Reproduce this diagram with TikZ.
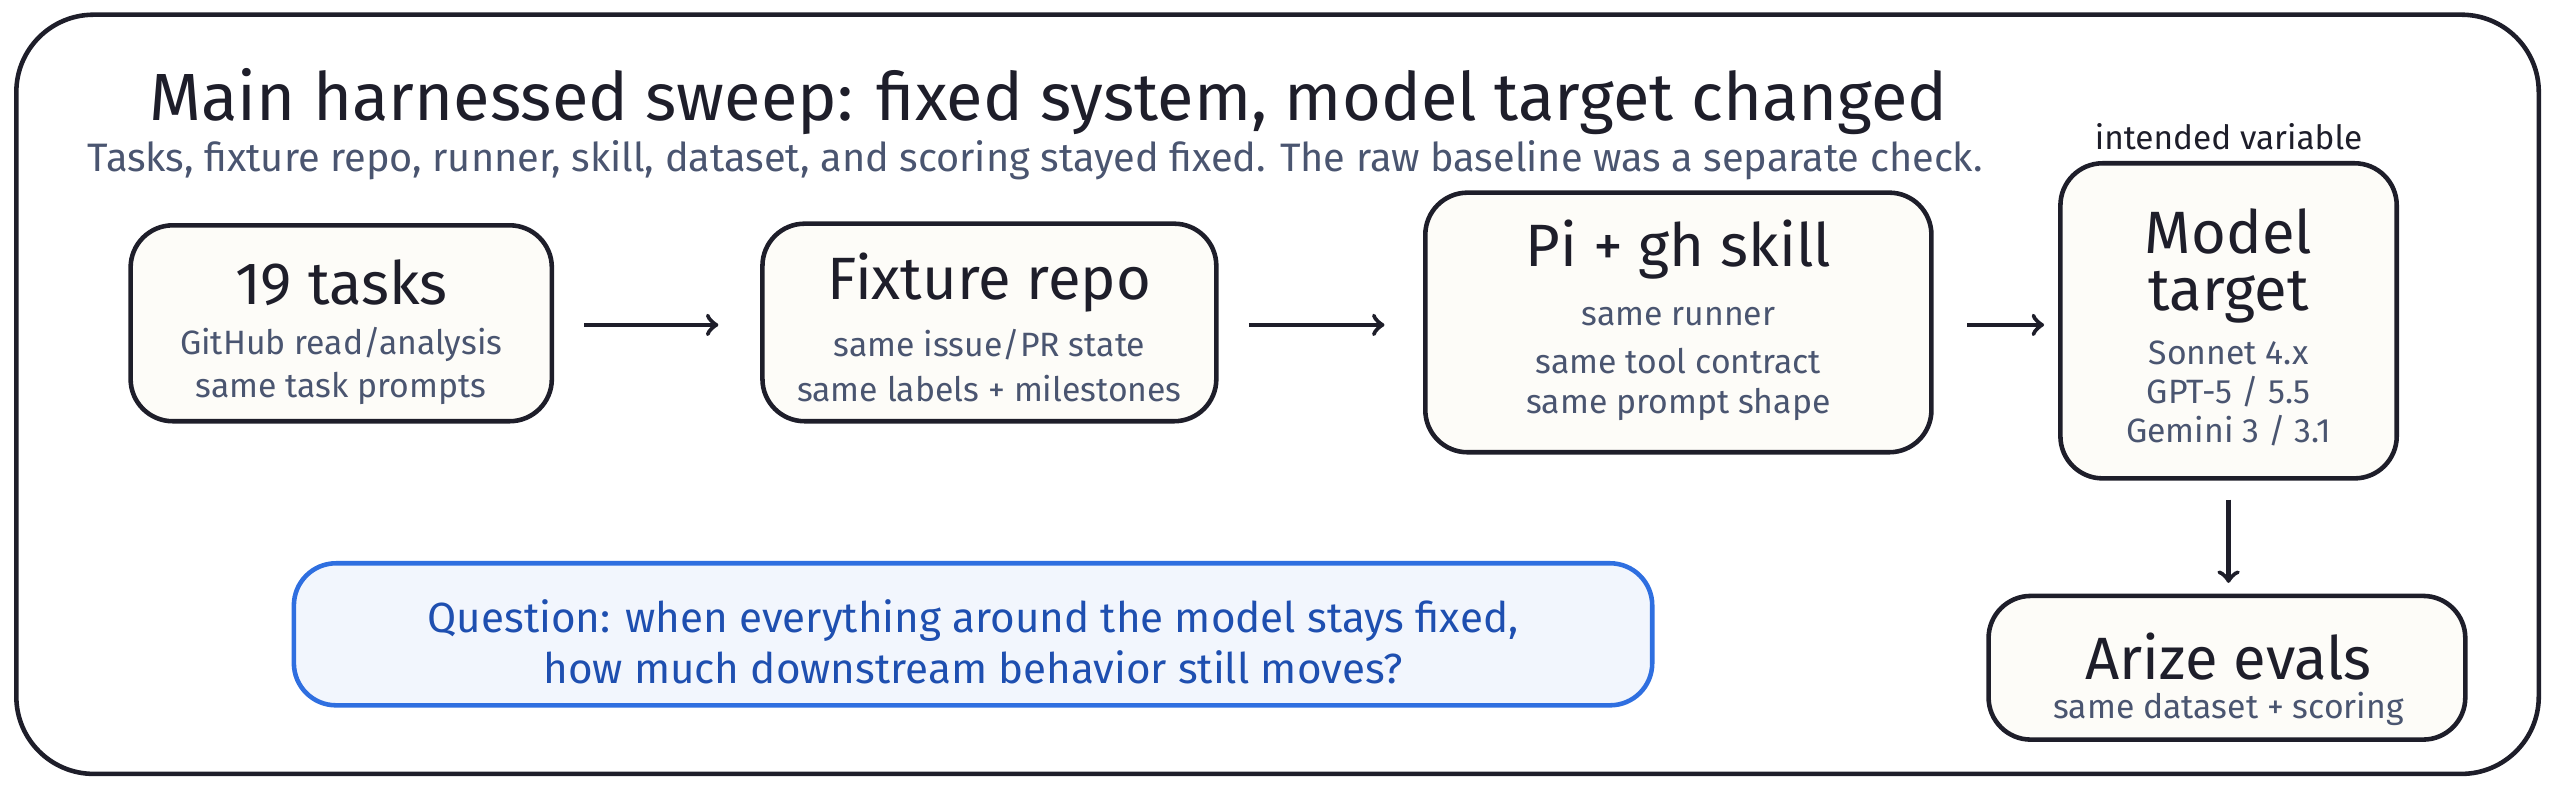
\documentclass[tikz,border=0pt]{standalone}
\usepackage{fontspec}
\setmainfont{Fira Sans}
\usetikzlibrary{positioning}
\definecolor{ink}{HTML}{1E1E2A}
\definecolor{sub}{HTML}{4A5570}
\definecolor{qblue}{HTML}{2F6FE0}
\definecolor{qtext}{HTML}{1E4FB0}
\definecolor{qfill}{HTML}{F2F6FD}
\definecolor{paper}{HTML}{FDFCF8}
\tikzset{
  stage/.style={draw=ink, line width=1.3pt, rounded corners=12pt, fill=paper},
  flow/.style={->, draw=ink, line width=1.3pt, >=to},
  head/.style={text=ink, font=\fontsize{17}{19}\selectfont},
  detail/.style={text=sub, font=\fontsize{9.6}{12}\selectfont},
}
\begin{document}
\begin{tikzpicture}[x=0.016327cm, y=-0.016327cm]
\useasboundingbox (0,0) rectangle (1568,484.5);
\draw[ink, line width=1.3pt, rounded corners=22pt] (10,9) rectangle (1555,474);
% title {{{
\node[anchor=west, text=ink, font=\fontsize{19}{22}\selectfont] (title) at (84,62) {Main harnessed sweep: fixed system, model target changed};
\node[anchor=west, text=sub, font=\fontsize{11.3}{14}\selectfont] (subtitle) at (46,98) {Tasks, fixture repo, runner, skill, dataset, and scoring stayed fixed. The raw baseline was a separate check.};
% }}}
% stages {{{
\draw[stage] (80,138) rectangle (338,258);
\node[head] (tasks) at (209,173) {19 tasks};
\node[detail] (tasksd1) at (209,211) {GitHub read/analysis};
\node[detail] (tasksd2) at (209,238) {same task prompts};

\draw[stage] (467,137) rectangle (745,258);
\node[head] (fixture) at (606,173) {Fixture repo};
\node[detail] (fixtured1) at (606,211) {same issue/PR state};
\node[detail] (fixtured2) at (606,238) {same labels + milestones};

\draw[stage] (873,118) rectangle (1183,277);
\node[head] (pi) at (1028,153) {Pi + gh skill};
\node[detail] (pid1) at (1028,194) {same runner};
\node[detail] (pid2) at (1028,221) {same tool contract};
\node[detail] (pid3) at (1028,248) {same prompt shape};

\node[text=ink, font=\fontsize{9.5}{11}\selectfont] (intended) at (1365,84) {intended variable};
\draw[stage] (1262,100) rectangle (1468,293);
\node[head] (model1) at (1365,142) {Model};
\node[head] (model2) at (1365,182) {target};
\node[detail] (modeld1) at (1365,216) {Sonnet 4.x};
\node[detail] (modeld2) at (1365,240) {GPT-5 / 5.5};
\node[detail] (modeld3) at (1365,264) {Gemini 3 / 3.1};

\draw[stage] (1218,365) rectangle (1510,453);
\node[head] (arize) at (1365,402) {Arize evals};
\node[detail] (arized) at (1365,434) {same dataset + scoring};
% }}}
% connectors {{{
\coordinate (a1) at (358,199); \coordinate (b1) at (440,199);
\coordinate (a2) at (765,199); \coordinate (b2) at (848,199);
\coordinate (a3) at (1205,199); \coordinate (b3) at (1252,199);
\coordinate (a4) at (1365,306); \coordinate (b4) at (1365,357);
\draw[flow] (a1) -- (b1);
\draw[flow] (a2) -- (b2);
\draw[flow] (a3) -- (b3);
\draw[flow] (a4) -- (b4);
% }}}
% question {{{
\draw[draw=qblue, fill=qfill, line width=1.3pt, rounded corners=12pt] (180,345) rectangle (1012,432);
\node[text=qtext, font=\fontsize{12}{14}\selectfont] (question1) at (596,380) {Question: when everything around the model stays fixed,};
\node[text=qtext, font=\fontsize{12}{14}\selectfont] (question2) at (596,409) {how much downstream behavior still moves?};
% }}}
\end{tikzpicture}
\end{document}
